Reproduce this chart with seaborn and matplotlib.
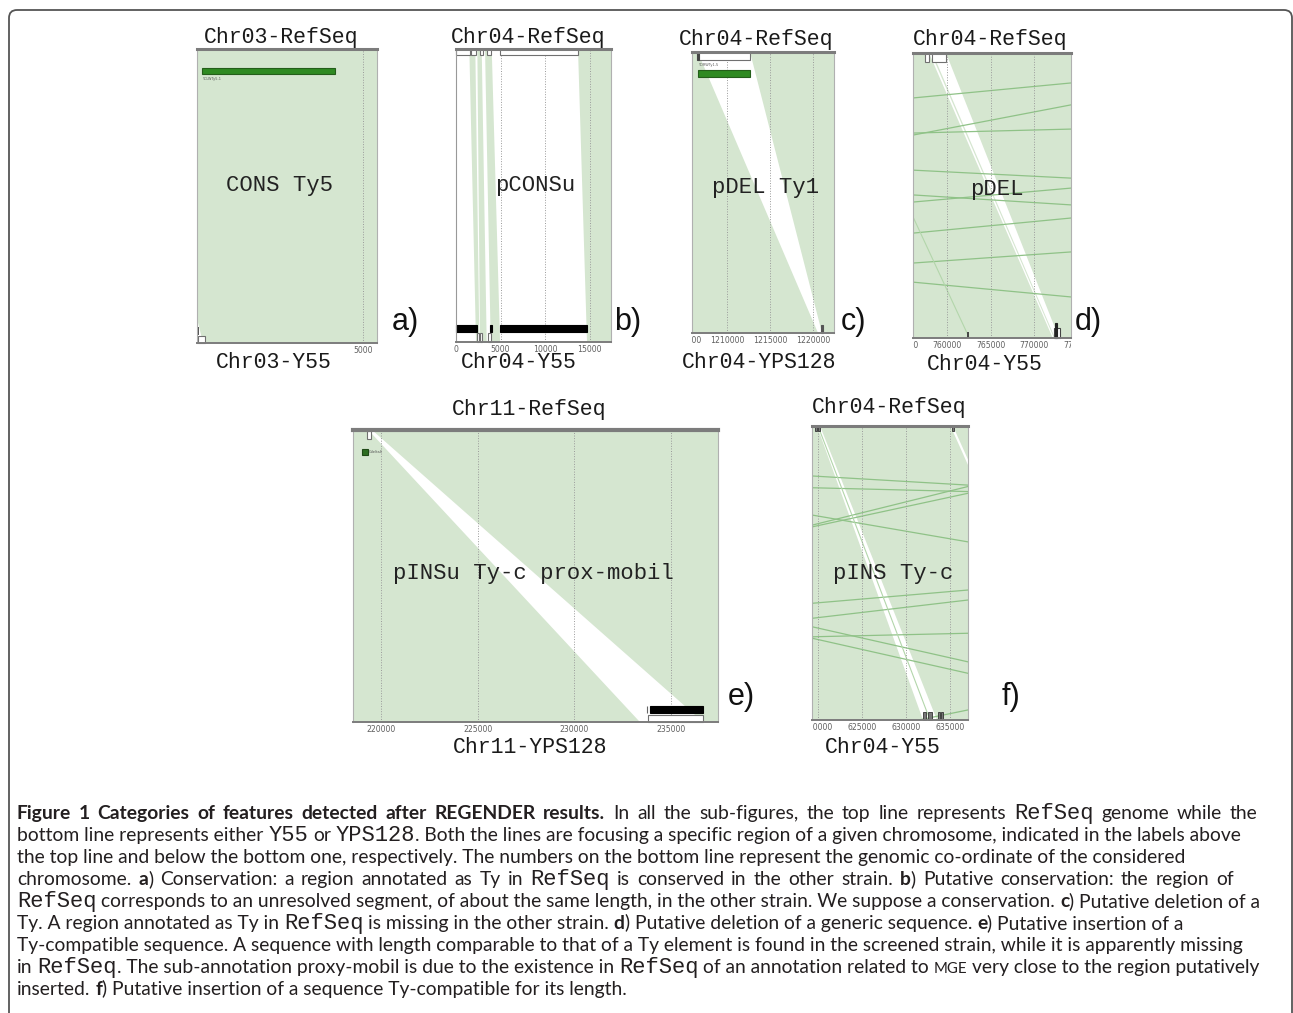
import re
import pandas as pd
import seaborn as sns
import matplotlib.pyplot as plt
from matplotlib.patches import Rectangle, FancyBboxPatch
from matplotlib.transforms import blended_transform_factory, Bbox, TransformedBbox
from matplotlib.font_manager import FontProperties

sns.set_theme(style="white")
plt.rcParams['font.family'] = ['DejaVu Sans']

# ---------------- data (genomic coordinates) ----------------
# blocks: (ref_start, ref_end, query_start, query_end) ; ref = top line, query = bottom line
a_xlim = (0, 5420)
a_ticks = [5000]
a_blocks = [(-2000, 9000, 180, 9000)]
a_ty = (151, 4145)
a_qry_box = [(30, 240)]

b_xlim = (0, 17400)
b_ticks = [0, 5000, 10000, 15000]
b_blocks = [(1495, 2168, 2247, 2622), (2397, 2886, 2697, 3446),
            (3259, 4011, 3896, 4944), (13674, 20000, 14685, 20000)]
b_ref_boxes = [(0, 1573), (1685, 2247), (2697, 3034), (3483, 3933), (4944, 13708)]
b_qry_bars = [(0, 2397), (3820, 4080), (4944, 14685)]
b_qry_boxes = [(2360, 2584), (2697, 2922), (3596, 3933)]

c_xlim = (1205930, 1222440)
c_ticks = [1205000, 1210000, 1215000, 1220000]
c_blocks = [(1190000, 1206593, 1190000, 1220581), (1212674, 1240000, 1221047, 1240000)]
c_ty = (1206593, 1212674)
c_qry_ticks = [1221047]

d_xlim = (756090, 774250)
d_ticks = [755000, 760000, 765000, 770000, 775000]
d_blocks = [(740000, 757931, 740000, 772149), (758161, 758333, 772299, 772414),
            (759885, 790000, 772908, 790000)]
d_ref_boxes = [(757471, 757966), (758241, 759851)]
d_qry_boxes = [(772299, 772989)]
d_qry_ticks = [762379, 772529]
d_lines_ref = [810500, 805430, 1121000, 489500, 497680, 949920, 972620, 1099250, 475340]
d_lines_qry = [465600, 634120, -178000, 1138100, 1016580, 579310, 630010, 633640, 824530]
d_faint_ref = [747335]
d_faint_qry = [762565]

e_xlim = (218552, 237430)
e_ticks = [220000, 225000, 230000, 235000]
e_blocks = [(200000, 219343, 200000, 233390), (219519, 250000, 236663, 250000)]
e_ref_box = (219261, 219468)
e_cdelta = (219002, 219343)
e_qry_bar = (233907, 236663)
e_qry_box = (233804, 236663)

f_xlim = (619318, 637042)
f_ticks = [620000, 625000, 630000, 635000]
f_blocks = [(600000, 619888, 600000, 631930), (620229, 660000, 633520, 660000)]
f_ref_marks = [(619661, 619900), (620000, 620229), (635190, 635451)]
f_qry_marks = [(631930, 632300), (632500, 632953), (633634, 633850), (634000, 634202)]
f_lines_ref = [522540, 334170, 664770, 672470, 560570, 855910, 805550, 518030, 1674000, 512250, 794520]
f_lines_qry = [1092040, 1692170, 530010, 517610, 754570, 463610, 520850, 666380, 203060, 660600, 631464]
f_faint_ref = [620002]
f_faint_qry = [632725]
f_gap_line = (635190, 650207)

# ---------------- figure ----------------
W, H = 1293, 1013
fig = plt.figure(figsize=(W / 100, H / 100), dpi=100)

LIGHT = '#d5e6d0'
LINE = '#8fc287'
FAINT = '#b3d6ab'
DARK = '#2f8a22'
GRAY = '#7c7c7c'
MONO = 'Liberation Mono'


def make_axes(l, t, r, b, xlim, ticks, pad=0.0):
    ax = fig.add_axes([l / W, 1 - b / H, (r - l) / W, (b - t) / H])
    ax.set_facecolor('white')
    ax.set_xlim(*xlim)
    ax.set_ylim(0, 1)
    ax.set_xticks([])
    ax.set_yticks([])
    for s in ax.spines.values():
        s.set_color('#b0b0b0')
        s.set_linewidth(0.8)
        s.set_zorder(5)
    ax.spines['top'].set_color(GRAY)
    ax.spines['top'].set_linewidth(2.2)
    ax.spines['bottom'].set_color(GRAY)
    ax.spines['bottom'].set_linewidth(1.4)
    trans = blended_transform_factory(ax.transData, ax.transAxes)
    clipbox = TransformedBbox(Bbox([[-pad, -0.3], [1 + pad, 0]]), ax.transAxes)
    for tk in ticks:
        ax.axvline(tk, color='#9a9a9a', lw=0.7, ls=':', zorder=2)
        t = ax.text(tk, -0.01, str(tk), transform=trans, ha='center', va='top',
                    fontsize=5.6, color='#606060')
        t.set_clip_on(True)
        t.set_clip_path(None)
        t.set_clip_box(clipbox)
    return ax


def blocks(ax, bl):
    for rs, re_, qs, qe in bl:
        ax.fill([rs, re_, qe, qs], [1, 1, 0, 0], color=LIGHT, lw=0, zorder=1)


def lines(ax, refs, qrys, color=LINE, lw=0.9):
    df = pd.DataFrame({'x': refs + qrys, 'y': [1] * len(refs) + [0] * len(qrys),
                       'id': list(range(len(refs))) * 2})
    sns.lineplot(data=df, x='x', y='y', units='id', estimator=None, sort=False,
                 color=color, lw=lw, ax=ax, legend=False, zorder=1.5)
    ax.set_xlabel('')
    ax.set_ylabel('')


def box(ax, x0, x1, y0, y1, fc='white', ec='#707070', lw=0.8):
    ax.add_patch(Rectangle((x0, y0), x1 - x0, y1 - y0, facecolor=fc, edgecolor=ec,
                           lw=lw, zorder=4, clip_on=False))


# a)
ax = make_axes(197, 49, 377, 343, a_xlim, a_ticks)
blocks(ax, a_blocks)
box(ax, a_ty[0], a_ty[1], 0.914, 0.936, fc=DARK, ec='#245e1a')
ax.text(a_ty[0], 0.905, 'YCLWTy5-1', fontsize=2.5, color='#555', va='top')
for x0, x1 in a_qry_box:
    box(ax, x0, x1, 0.0, 0.024)
    ax.vlines(x0, 0.027, 0.054, color='#333', lw=1.2, zorder=4)
ax.set_xlim(*a_xlim)

# b)
ax = make_axes(456, 49, 611, 342, b_xlim, b_ticks, pad=0.05)
ax.spines['left'].set_color('#999999')
blocks(ax, b_blocks)
for x0, x1 in b_ref_boxes:
    box(ax, x0, x1, 0.978, 1.0)
for x0, x1 in b_qry_bars:
    box(ax, x0, x1, 0.034, 0.058, fc='black', ec='black')
for x0, x1 in b_qry_boxes:
    box(ax, x0, x1, 0.0, 0.031)
ax.set_xlim(*b_xlim)

# c)
ax = make_axes(692, 52, 834, 333, c_xlim, c_ticks)
blocks(ax, c_blocks)
box(ax, c_ty[0], c_ty[1], 0.972, 1.0)
box(ax, c_ty[0] - 120, c_ty[0] + 120, 0.972, 1.0, fc='#444', ec='#444')
ax.text(c_ty[0], 0.962, 'YDRWTy1-5', fontsize=2.5, color='#555', va='top')
box(ax, c_ty[0], c_ty[1], 0.911, 0.936, fc=DARK, ec='#245e1a')
for x in c_qry_ticks:
    box(ax, x - 100, x + 100, 0.0, 0.028, fc='#555', ec='#555')
ax.set_xlim(*c_xlim)

# d)
ax = make_axes(913, 53, 1071, 338, d_xlim, d_ticks)
blocks(ax, d_blocks)
lines(ax, d_lines_ref, d_lines_qry)
lines(ax, d_faint_ref, d_faint_qry, color=FAINT, lw=0.8)
for x0, x1 in d_ref_boxes:
    box(ax, x0, x1, 0.97, 1.0)
for x0, x1 in d_qry_boxes:
    box(ax, x0, x1, 0.0, 0.035, fc='white', ec='#444')
ax.vlines(d_qry_ticks[0], 0.0, 0.022, color='#444', lw=1.4, zorder=4)
box(ax, d_qry_ticks[1] - 100, d_qry_ticks[1] + 100, 0.0, 0.053, fc='#222', ec='#222')
ax.set_xlim(*d_xlim)

# e)
ax = make_axes(353, 430, 718, 722, e_xlim, e_ticks)
ax.spines['top'].set_linewidth(3)
blocks(ax, e_blocks)
box(ax, e_ref_box[0], e_ref_box[1], 0.97, 0.995)
box(ax, e_cdelta[0], e_cdelta[1], 0.914, 0.935, fc='#2d6e22', ec='#1f4a17')
ax.text(e_cdelta[1] + 40, 0.925, 'Cdelta4', fontsize=2.5, color='#555', va='center')
box(ax, e_qry_bar[0], e_qry_bar[1], 0.030, 0.055, fc='black', ec='black')
box(ax, e_qry_box[0], e_qry_box[1], 0.0, 0.024)
ax.vlines(e_qry_box[0] - 70, 0.03, 0.055, color='#666', lw=0.8, zorder=4)
ax.set_xlim(*e_xlim)

# f)
ax = make_axes(812, 426, 968, 720, f_xlim, f_ticks)
blocks(ax, f_blocks)
lines(ax, f_lines_ref, f_lines_qry)
lines(ax, f_faint_ref, f_faint_qry, color=FAINT, lw=0.8)
ax.plot(list(f_gap_line), [1, 0], color='white', lw=1.6, zorder=1.6)
for x0, x1 in f_ref_marks:
    box(ax, x0, x1, 0.982, 1.0, fc='#777', ec='#333', lw=0.6)
for x0, x1 in f_qry_marks:
    box(ax, x0, x1, 0.0, 0.028, fc='#777', ec='#333', lw=0.6)
ax.set_xlim(*f_xlim)

# ---------------- labels ----------------
def ftext(x, y, s, **kw):
    fig.text(x / W, 1 - y / H, s, ha='center', va='center', **kw)


titles = [("Chr03-RefSeq", 281, 38), ("Chr03-Y55", 274, 362),
          ("Chr04-RefSeq", 528, 38), ("Chr04-Y55", 519, 363),
          ("Chr04-RefSeq", 756, 40), ("Chr04-YPS128", 759, 362),
          ("Chr04-RefSeq", 990, 40), ("Chr04-Y55", 985, 364),
          ("Chr11-RefSeq", 529, 410), ("Chr11-YPS128", 530, 747),
          ("Chr04-RefSeq", 889, 407), ("Chr04-Y55", 883, 747)]
for s, x, y in titles:
    ftext(x, y, s, family=MONO, fontsize=15.5, color='#1a1a1a')

centers = [("CONS Ty5", 280, 185), ("pCONSu", 535, 185), ("pDEL Ty1", 765, 187),
           ("pDEL", 997, 190), ("pINSu Ty-c prox-mobil", 533, 574), ("pINS Ty-c", 893, 573)]
for s, x, y in centers:
    ftext(x, y, s, family=MONO, fontsize=16, color='#222222')

letters = [("a)", 405, 322), ("b)", 628, 322), ("c)", 853, 322),
           ("d)", 1088, 322), ("e)", 741, 697), ("f)", 1011, 697)]
for s, x, y in letters:
    ftext(x, y, s, family='Liberation Sans', fontsize=22, color='#111111')

# ---------------- caption ----------------
caption = [
    [("Figure 1 Categories of features detected after REGENDER results.", 'b'),
     (" In all the sub-figures, the top line represents ", 'r'), ("RefSeq", 'm'), (" genome while the", 'r')],
    [("bottom line represents either ", 'r'), ("Y55", 'm'), (" or ", 'r'), ("YPS128", 'm'),
     (". Both the lines are focusing a specific region of a given chromosome, indicated in the labels above", 'r')],
    [("the top line and below the bottom one, respectively. The numbers on the bottom line represent the genomic co-ordinate of the considered", 'r')],
    [("chromosome. ", 'r'), ("a", 'b'), (") Conservation: a region annotated as Ty in ", 'r'), ("RefSeq", 'm'),
     (" is conserved in the other strain. ", 'r'), ("b", 'b'), (") Putative conservation: the region of", 'r')],
    [("RefSeq", 'm'), (" corresponds to an unresolved segment, of about the same length, in the other strain. We suppose a conservation. ", 'r'),
     ("c", 'b'), (") Putative deletion of a", 'r')],
    [("Ty. A region annotated as Ty in ", 'r'), ("RefSeq", 'm'), (" is missing in the other strain. ", 'r'), ("d", 'b'),
     (") Putative deletion of a generic sequence. ", 'r'), ("e", 'b'), (") Putative insertion of a", 'r')],
    [("Ty-compatible sequence. A sequence with length comparable to that of a Ty element is found in the screened strain, while it is apparently missing", 'r')],
    [("in ", 'r'), ("RefSeq", 'm'), (". The sub-annotation proxy-mobil is due to the existence in ", 'r'), ("RefSeq", 'm'),
     (" of an annotation related to ", 'r'), ("MGE", 's'), (" very close to the region putatively", 'r')],
    [("inserted. ", 'r'), ("f", 'b'), (") Putative insertion of a sequence Ty-compatible for its length.", 'r')],
]
# right end (px) of the lines that are visibly spread wider in the reference
line_ends = [1262, None, None, 1234, None, None, None, None, None]

renderer = fig.canvas.get_renderer()


def fonts(sz):
    return {'r': FontProperties(family='Lato', size=sz),
            'b': FontProperties(family='Lato', weight='bold', size=sz),
            'm': FontProperties(family=MONO, size=sz * 1.15),
            's': FontProperties(family='Lato', size=sz * 0.78)}


def adv(s, fp):
    if not s:
        return 0.0
    w1 = renderer.get_text_width_height_descent(s + '|', fp, ismath=False)[0]
    w0 = renderer.get_text_width_height_descent('|', fp, ismath=False)[0]
    return w1 - w0


def tokens(parts):
    out = []
    for t, st in parts:
        for tok in re.split(r'( )', t):
            if tok:
                out.append((tok, st))
    return out


def runs(parts):
    out = []
    for t, st in parts:
        lead = len(t) - len(t.lstrip(' '))
        trail = len(t) - len(t.rstrip(' '))
        if lead:
            out.append((' ', st))
        if t.strip(' '):
            out.append((t.strip(' '), st))
        if trail:
            out.append((' ', st))
    return out


base = 12
sz = base * 1166 / sum(adv(t, fonts(base)[st]) for t, st in caption[2])
fp = fonts(sz)

for i, parts in enumerate(caption):
    extra = 0.0
    if line_ends[i] is not None:
        toks = tokens(parts)
        natural = sum(adv(t, fp[st]) for t, st in toks)
        n_sp = sum(1 for t, st in toks if t == ' ')
        extra = max(min((line_ends[i] - 17 - natural) / n_sp, 3.0), -1.5)
    else:
        toks = runs(parts)
    x = 17.0
    yb = 819 + 22 * i
    for t, st in toks:
        f = fp[st]
        if t == ' ':
            x += adv(' ', f) + extra
            continue
        fig.text(x / W, 1 - yb / H, t, fontproperties=f, ha='left', va='baseline', color='#231f20')
        x += adv(t, f)

border = FancyBboxPatch((0.09, -0.6), 12.83, 10.63, boxstyle='round,pad=0,rounding_size=0.08',
                        transform=fig.dpi_scale_trans, facecolor='none', edgecolor='#555555', lw=1.3)
fig.add_artist(border)

fig.savefig('out.png', dpi=100)
